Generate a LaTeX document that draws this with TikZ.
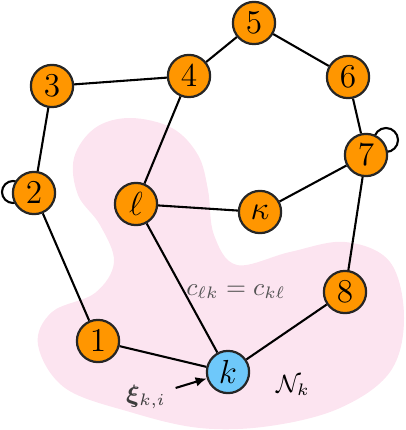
\documentclass[tikz,border=0pt]{standalone}
\usepackage{amsmath,bm}
\usetikzlibrary{arrows.meta,calc,backgrounds}
\definecolor{nodeorange}{RGB}{255,150,0}
\definecolor{nodeblue}{RGB}{110,200,250}
\definecolor{blobpink}{RGB}{252,228,240}
\definecolor{labgray}{RGB}{85,85,85}
\definecolor{xigray}{RGB}{60,60,60}
\begin{document}
\begin{tikzpicture}[x=0.36pt,y=-0.36pt,
  vtx/.style={circle,draw=black!85,line width=0.8pt,fill=nodeorange,minimum size=15.2pt,inner sep=0pt,font=\large},
  agent/.style={vtx,fill=nodeblue},
  link/.style={line width=0.75pt}]
\useasboundingbox (0,0) rectangle (406,430);
% nodes
\node[vtx] (n5) at (254,23) {$5$};
\node[vtx] (n4) at (189,76) {$4$};
\node[vtx] (n3) at (52,86) {$3$};
\node[vtx] (n6) at (348,77) {$6$};
\node[vtx] (n7) at (366,155) {$7$};
\node[vtx] (n2) at (34,193) {$2$};
\node[vtx] (nl) at (136,204) {$\ell$};
\node[vtx] (nkap) at (260,212) {$\kappa$};
\node[vtx] (n8) at (345,292) {$8$};
\node[vtx] (n1) at (98,341) {$1$};
\node[agent] (nk) at (228,372) {$k$};
% labels
\node[text=labgray,font=\small] (clab) at (236,292) {$c_{\ell k}=c_{k\ell}$};
\node[font=\small] (Nk) at (293,385) {$\mathcal{N}_k$};
\node[text=xigray,font=\small] (xi) at (146,397) {$\bm{\xi}_{k,i}$};
% edges
\draw[link] (n5) -- (n4);
\draw[link] (n5) -- (n6);
\draw[link] (n4) -- (n3);
\draw[link] (n3) -- (n2);
\draw[link] (n4) -- (nl);
\draw[link] (n6) -- (n7);
\draw[link] (n7) -- (nkap);
\draw[link] (nkap) -- (nl);
\draw[link] (n7) -- (n8);
\draw[link] (n2) -- (n1);
\draw[link] (n1) -- (nk);
\draw[link] (nl) -- (nk);
\draw[link] (n8) -- (nk);
\draw[link,-{Latex[length=4pt,width=3.5pt]}] (xi) -- (nk);
\begin{scope}[on background layer]
  % neighbourhood blob
  \fill[blobpink] plot[smooth cycle,tension=0.6] coordinates {
    (130,118) (172,128) (198,155) (208,190) (214,235) (237,265) (290,252)
    (345,242) (390,262) (404,318) (390,372) (340,408) (270,426) (200,428)
    (130,412) (65,388) (38,345) (52,312) (95,293) (114,262) (100,225)
    (78,195) (74,158) (95,128)};
  % self loops
  \draw[link] ($(n2)+(-21,-1)$) circle[radius=11];
  \draw[link] ($(n7)+(20,-15)$) circle[radius=12];
\end{scope}
\end{tikzpicture}
\end{document}
